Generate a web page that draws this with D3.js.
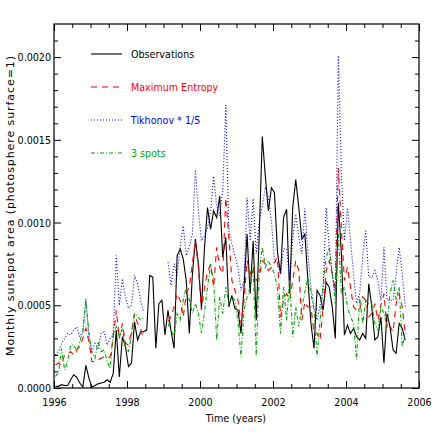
<!DOCTYPE html>
<html lang="en">
<head>
<meta charset="utf-8">
<title>Monthly sunspot area</title>
<script src="https://cdn.jsdelivr.net/npm/d3@7"></script>
<style>
body { margin: 0; background: #fff; }
text { font-family: "DejaVu Sans", sans-serif; font-size: 11px; }
.axis path, .axis line { stroke: #000; stroke-width: 1; }
.axis text { fill: #000; }
/* squeeze glyphs a bit, the original uses a narrow vector font */
.narrow { transform-box: fill-box; transform: scaleX(0.87); }
.narrow.mid { transform-origin: center; }
.narrow.end { transform-origin: right center; }
.narrow.start { transform-origin: left center; }
</style>
</head>
<body>
<script>
// monthly values, in units of 1e-4 of the photosphere surface
// first month sits at startYear, one point per month
var startYear = 1996.04;

var observations = [
  0.1, 0.1, 0.2, 0.15, 0.15, 0.5, 0.8, 0.65, 0.3, 0.05,
  1.37, 0.6, 0.05, 0.15, 0.25, 0.3, 0.35, 0.5, 0.35, 0.9,
  3.5, 0.66, 3.1, 2.5, 1.3, 1.5, 4.0, 2.9, 3.4, 3.4,
  3.5, 6.8, 6.7, 2.4, 5.1, 5.3, 3.2, 4.7, 3.45, 2.4,
  8.0, 8.4, 7.8, 6.5, 3.3, 6.8, 9.0, 7.5, 4.8, 8.5,
  10.9, 9.6, 10.7, 10.3, 11.6, 7.9, 9.1, 4.9, 5.6, 4.8,
  4.7, 3.3, 6.1, 9.3, 5.7, 8.9, 4.1, 9.3, 15.2, 12.8,
  10.7, 12.1, 11.8, 8.2, 6.9, 10.3, 10.8, 5.7, 10.9, 12.6,
  10.9, 9.0, 9.3, 6.5, 3.9, 2.4, 5.9, 5.6, 4.7, 6.4,
  6.1, 4.9, 3.0, 11.2, 8.1, 3.2, 3.8, 3.3, 3.6, 3.1,
  2.9, 3.3, 3.0, 6.3, 4.9, 2.9, 3.1, 4.3, 1.5, 4.5,
  3.7, 2.3, 2.1, 3.9, 3.6, 2.9
];

var maxEntropy = [
  1.4, 1.5, 1.4, 2.0, 2.1, 2.2, 2.0, 2.3, 2.5, 3.0,
  3.6, 2.8, 1.6, 1.6, 1.7, 1.8, 1.9, 1.8, 1.9, 3.0,
  4.7, 3.0, 3.9, 2.7, 2.6, 3.4, 4.5, 3.9, 3.6, 2.9,
  null, null, null, null, null, null, null, 4.0, 4.3, 4.9,
  5.7, 5.3, 4.3, 5.7, 6.1, 7.5, 8.9, 7.3, 4.7, 6.1,
  7.0, 7.5, 6.1, 8.5, 7.3, 6.9, 11.5, 9.1, 6.5, 5.9,
  5.3, 3.9, 5.3, 7.7, 6.9, 7.3, 6.5, 6.7, 7.7, 7.5,
  7.1, 7.3, 7.6, 7.9, 4.3, 5.3, 5.7, 5.3, 6.5, 7.7,
  7.1, 4.1, 5.2, 4.9, 4.9, 3.3, 3.3, 2.9, 4.9, 7.1,
  7.7, 6.9, 5.9, 13.3, 9.7, 6.5, 7.3, 6.1, 4.9, 4.7,
  4.7, 5.5, 5.3, 4.3, 4.5, 5.1, 4.1, 5.0, 5.7, 3.5,
  3.7, 3.4, 5.1, 5.7, 4.9, 3.3
];

// Tikhonov result already divided by 5
var tikhonov = [
  2.0, 2.2, 2.7, 3.0, 3.3, 3.2, 3.5, 3.7, 3.1, 3.4,
  5.4, 3.0, 2.2, 2.7, 2.4, 3.3, 3.4, 2.6, 3.0, 3.2,
  8.0, 5.0, 6.6, 5.5, 4.8, 5.0, 6.8, 6.3, 5.3, 4.6,
  null, null, null, null, null, null, null, 7.6, 6.2, 7.5,
  6.8, 8.5, 9.8, 8.0, 8.5, 9.3, 13.2, 10.7, 8.9, 9.2,
  9.7, 10.7, 12.8, 11.0, 10.4, 12.0, 17.1, 9.5, 8.7, 8.0,
  7.3, 5.9, 6.5, 11.5, 8.9, 11.45, 8.1, 10.1, 11.0, 12.15,
  11.5, 10.1, 7.7, 7.5, 6.9, 8.4, 8.4, 6.5, 9.0, 10.5,
  9.1, 8.1, 10.85, 8.1, 6.1, 4.9, 4.1, 5.0, 5.9, 10.9,
  8.5, 6.9, 5.7, 20.1, 13.0, 8.9, 10.9, 8.9, 6.9, 5.1,
  5.7, 7.9, 9.5, 6.7, 6.7, 7.1, 6.5, 5.3, 8.5, 5.3,
  5.3, 5.3, 6.9, 8.5, 6.9, 4.9
];

var threeSpots = [
  0.7, 0.9, 2.4, 1.1, 1.6, 2.6, 2.6, 2.2, 2.8, 3.4,
  5.3, 3.4, 2.1, 1.8, 2.8, 2.2, 2.3, 1.6, 1.2, 3.3,
  3.7, 3.1, 3.6, 2.4, 2.2, 3.2, 4.5, 4.3, 4.1, 4.3,
  null, null, null, null, null, null, null, 3.9, 3.5, 3.1,
  4.5, 4.1, 5.3, 6.1, 5.3, 4.5, 5.1, 4.5, 3.3, 4.6,
  6.1, 7.5, 6.5, 2.9, 5.5, 4.5, 6.1, 5.1, 5.5, 5.3,
  4.0, 1.9, 4.7, 5.5, 6.1, 7.3, 1.9, 7.1, 8.5, 7.3,
  7.7, 7.3, 6.9, 6.0, 3.3, 6.1, 4.1, 6.5, 3.1, 4.9,
  3.7, 4.9, 5.8, 6.7, 5.7, 4.7, 1.9, 4.1, 6.3, 7.9,
  8.5, 6.9, 5.1, 9.3, 5.7, 6.1, 4.9, 4.3, 3.9, 1.7,
  5.5, 3.9, 5.3, 5.1, 5.1, 3.9, 3.5, 4.9, 4.5, 3.7,
  5.7, 6.5, 5.3, 6.1, 2.5, 3.3
];

var seriesNames = ["Observations", "Maximum Entropy", "Tikhonov * 1/5", "3 spots"];

var xMajorTicks = [1996, 1998, 2000, 2002, 2004, 2006];
var xMinorTicks = [1996.5, 1997, 1997.5, 1998.5, 1999, 1999.5, 2000.5, 2001, 2001.5,
                   2002.5, 2003, 2003.5, 2004.5, 2005, 2005.5];
var yMajorTicks = [0, 5, 10, 15, 20];
var yMinorTicks = [1, 2, 3, 4, 6, 7, 8, 9, 11, 12, 13, 14, 16, 17, 18, 19, 21];

var w = 436, h = 436;
var plotLeft = 54, plotRight = 419, plotTop = 24, plotBottom = 388;

var styles = [
  { color: "#000000", dash: null, width: 1.1 },
  { color: "#ff0000", dash: "6,5", width: 1.1 },
  { color: "#0000ff", dash: "1,2", width: 1.1 },
  { color: "#00a800", dash: "4,2,1,2", width: 1.1 }
];

var svg = d3.select("body").append("svg")
  .attr("width", w)
  .attr("height", h);

svg.append("rect").attr("width", w).attr("height", h).attr("fill", "#fff");

var xScale = d3.scaleLinear().domain([1996, 2006]).range([plotLeft, plotRight]);
var yScale = d3.scaleLinear().domain([0, 22]).range([plotBottom, plotTop]);

var fmtY = function(d) { return (d * 1e-4).toFixed(4); };

// data lines
var allSeries = [observations, maxEntropy, tikhonov, threeSpots];
var line = d3.line()
  .defined(function(d) { return d.v !== null; })
  .x(function(d) { return xScale(d.t); })
  .y(function(d) { return yScale(d.v); });

allSeries.forEach(function(vals, k) {
  var pts = vals.map(function(v, i) { return { t: startYear + i / 12, v: v }; });
  svg.append("path")
    .datum(pts)
    .attr("fill", "none")
    .attr("stroke", styles[k].color)
    .attr("stroke-width", styles[k].width)
    .attr("stroke-dasharray", styles[k].dash)
    .attr("d", line);
});

// frame
svg.append("rect")
  .attr("x", plotLeft).attr("y", plotTop)
  .attr("width", plotRight - plotLeft).attr("height", plotBottom - plotTop)
  .attr("fill", "none").attr("stroke", "#000").attr("stroke-width", 1.2);

// axes, ticks point inward
function addAxis(axis, tx, ty) {
  var g = svg.append("g").attr("class", "axis")
    .attr("transform", "translate(" + tx + "," + ty + ")")
    .call(axis);
  g.select(".domain").remove();
  return g;
}

var xAx = addAxis(d3.axisBottom(xScale).tickValues(xMajorTicks).tickSize(-7).tickPadding(10)
  .tickFormat(d3.format("d")), 0, plotBottom);
addAxis(d3.axisBottom(xScale).tickValues(xMinorTicks).tickSize(-4).tickFormat(""), 0, plotBottom);
addAxis(d3.axisTop(xScale).tickValues(xMajorTicks).tickSize(-7).tickFormat(""), 0, plotTop);
addAxis(d3.axisTop(xScale).tickValues(xMinorTicks).tickSize(-4).tickFormat(""), 0, plotTop);

var yAx = addAxis(d3.axisLeft(yScale).tickValues(yMajorTicks).tickSize(-7).tickPadding(3)
  .tickFormat(fmtY), plotLeft, 0);
addAxis(d3.axisLeft(yScale).tickValues(yMinorTicks).tickSize(-4).tickFormat(""), plotLeft, 0);
addAxis(d3.axisRight(yScale).tickValues(yMajorTicks).tickSize(-7).tickFormat(""), plotRight, 0);
addAxis(d3.axisRight(yScale).tickValues(yMinorTicks).tickSize(-4).tickFormat(""), plotRight, 0);

svg.selectAll(".axis text")
  .style("font-family", "'DejaVu Sans', sans-serif")
  .style("font-size", "11px");
xAx.selectAll("text").attr("class", "narrow mid");
yAx.selectAll("text").attr("class", "narrow end");

// axis titles
svg.append("text")
  .attr("class", "narrow mid")
  .attr("x", 236).attr("y", 422)
  .attr("text-anchor", "middle")
  .text("Time (years)");

svg.append("text")
  .attr("transform", "translate(14,206) rotate(-90)")
  .attr("text-anchor", "middle")
  .attr("textLength", 300)
  .attr("lengthAdjust", "spacing")
  .text("Monthly sunspot area (photosphere surface=1)");

// legend
var legendY = [54, 87, 120, 153];
seriesNames.forEach(function(name, k) {
  svg.append("line")
    .attr("x1", 91).attr("x2", 122)
    .attr("y1", legendY[k]).attr("y2", legendY[k])
    .attr("stroke", styles[k].color)
    .attr("stroke-width", styles[k].width)
    .attr("stroke-dasharray", styles[k].dash);
  svg.append("text")
    .attr("class", "narrow start")
    .attr("x", 131).attr("y", legendY[k] + 4)
    .attr("fill", styles[k].color)
    .text(name);
});
</script>
</body>
</html>
